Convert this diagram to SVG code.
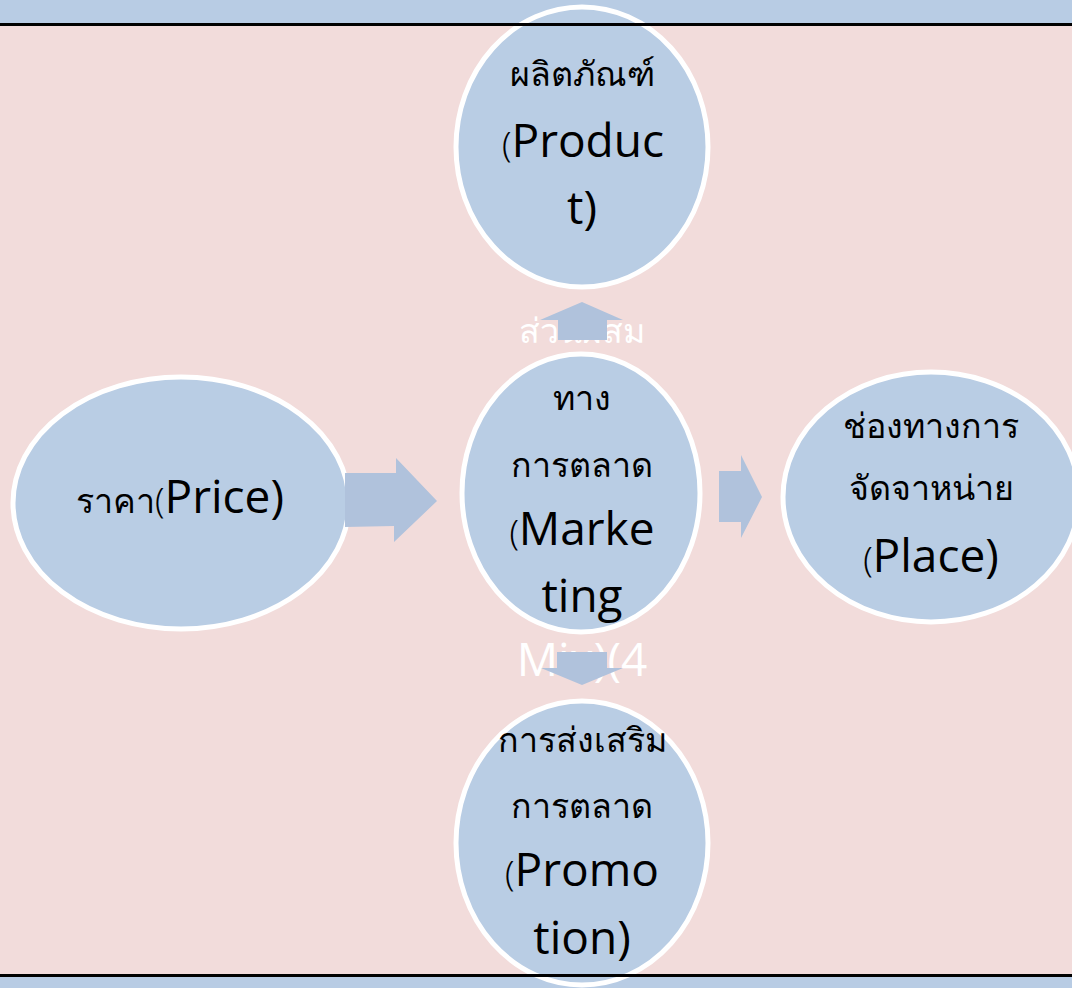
<svg xmlns="http://www.w3.org/2000/svg" width="1072" height="988" viewBox="0 0 1072 988">
<style>
.node{fill:#b9cde4;stroke:#ffffff;stroke-width:5}
.arrow{fill:#b0c2dc}
.th{font-family:"Noto Sans","Noto Sans CJK SC",sans-serif;font-size:34px;font-weight:300;fill:#000;text-anchor:middle}
.en{font-family:"Open Sans","Noto Sans",sans-serif;font-size:46px;font-weight:400;font-variant-ligatures:none}
.wt{font-family:"Noto Sans","Noto Sans CJK SC",sans-serif;font-size:34px;font-weight:300;fill:#ffffff;text-anchor:middle}
.wen{font-family:"Open Sans","Noto Sans",sans-serif;font-size:46px;fill:#ffffff;text-anchor:middle}
</style>
<rect x="0" y="0" width="1072" height="988" fill="#b8cce4"/>
<rect x="0" y="25" width="1072" height="950" fill="#f2dcdb"/>
<g id="price">
<ellipse class="node" cx="181" cy="503" rx="168" ry="126"/>
<text class="th" x="180" y="513">ราคา(<tspan class="en">Price)</tspan></text>
</g>
<g id="marketing">
<ellipse class="node" cx="581" cy="493" rx="119" ry="139"/>
<text class="wt" x="582" y="343">ส่วนผสม</text>
<text class="th" x="582" y="410">ทาง</text>
<text class="th" x="582" y="477">การตลาด</text>
<text class="th" x="582" y="545">(<tspan class="en">Marke</tspan></text>
<text class="th en" x="582" y="612">ting</text>
<text class="wen" x="582" y="676">Mix)(4</text>
</g>
<g id="connectors">
<polygon class="arrow" points="345,473 396,473 396,458 437,501 394,542 394,526 345,527"/>
<polygon class="arrow" points="719,471 741,471 741,455 762,497 741,538 741,522 719,522"/>
<polygon class="arrow" points="558,340 558,320 540,320 582,302 623,320 607,320 607,340"/>
<polygon class="arrow" points="557,652 607,652 607,668 623,668 582,685 541,668 557,668"/>
</g>
<g id="product">
<ellipse class="node" cx="582" cy="147" rx="126" ry="140"/>
<text class="th" x="582" y="86">ผลิตภัณฑ์</text>
<text class="th" x="583" y="157">(<tspan class="en">Produc</tspan></text>
<text class="th en" x="582" y="224">t)</text>
</g>
<g id="place">
<ellipse class="node" cx="931" cy="497" rx="148" ry="125"/>
<text class="th" x="931" y="438">ช่องทางการ</text>
<text class="th" x="931" y="500">จัดจาหน่าย</text>
<text class="th" x="931" y="572">(<tspan class="en">Place)</tspan></text>
</g>
<g id="promotion">
<ellipse class="node" cx="582" cy="843" rx="126" ry="142"/>
<text class="th" x="582" y="752">การส่งเสริม</text>
<text class="th" x="582" y="818">การตลาด</text>
<text class="th" x="582" y="886">(<tspan class="en">Promo</tspan></text>
<text class="th en" x="582" y="954">tion)</text>
</g>
<rect x="0" y="23" width="1072" height="3" fill="#000"/>
<rect x="0" y="974" width="1072" height="3" fill="#000"/>
</svg>
